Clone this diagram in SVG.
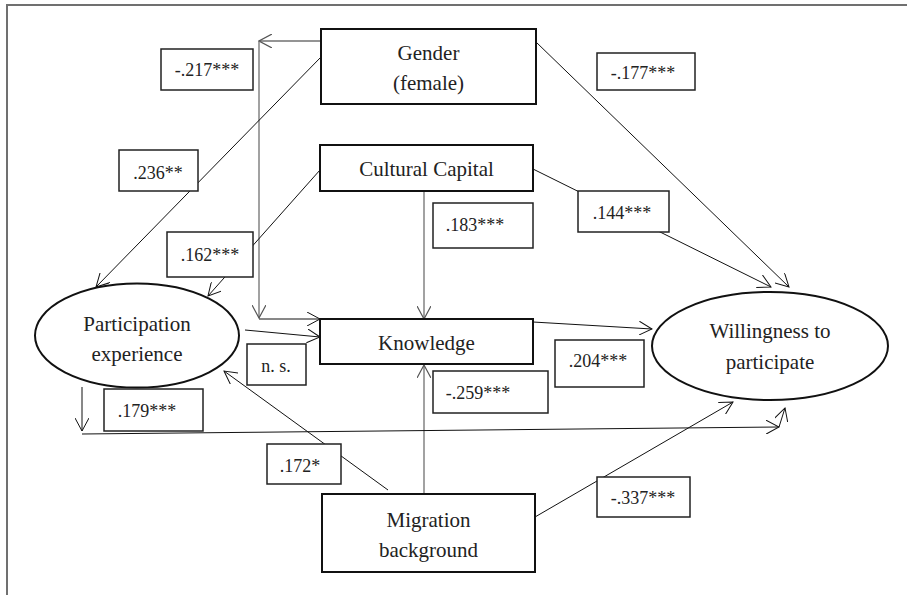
<svg xmlns="http://www.w3.org/2000/svg" width="907" height="595" viewBox="0 0 907 595">
<style>
.bg{fill:#fff}
.frame{fill:none;stroke:#707070;stroke-width:2}
.node{fill:#fff;stroke:#111;stroke-width:2}
.lab{fill:#fff;stroke:#222;stroke-width:1.5}
.ln{fill:none;stroke:#111;stroke-width:1;marker-end:url(#ah)}
.ga{fill:none;stroke:#707070;stroke-width:1.3;marker-end:url(#ahg)}
.t{font-family:"Liberation Serif","Times New Roman",Tinos,serif;font-size:21px;fill:#222;text-anchor:middle}
.s{font-family:"Liberation Serif","Times New Roman",Tinos,serif;font-size:18px;fill:#222;text-anchor:middle}
</style>
<defs>
<marker id="ah" markerUnits="userSpaceOnUse" markerWidth="14" markerHeight="14" refX="13" refY="7" orient="auto">
<path d="M0,0 L13,7 L0,14" fill="none" stroke="#111" stroke-width="1"/>
</marker>
<marker id="ahg" markerUnits="userSpaceOnUse" markerWidth="14" markerHeight="14" refX="13" refY="7" orient="auto">
<path d="M0,0 L13,7 L0,14" fill="none" stroke="#555" stroke-width="1.2"/>
</marker>
</defs>
<rect class="bg" x="0" y="0" width="907" height="595"/>
<rect class="frame" x="7" y="5" width="910" height="600"/>

<g id="connectors">
<line class="ga" x1="321" y1="41" x2="259" y2="41"/>
<line class="ga" x1="259" y1="41" x2="259" y2="318"/>
<line class="ln" x1="259" y1="319" x2="320" y2="319"/>
<line class="ln" x1="321" y1="57" x2="96" y2="287"/>
<line class="ln" x1="320" y1="170" x2="208" y2="296"/>
<line class="ln" x1="536" y1="42" x2="789" y2="287"/>
<line class="ln" x1="533" y1="169" x2="771" y2="287"/>
<line class="ga" x1="424" y1="191" x2="424" y2="319"/>
<line class="ln" x1="245" y1="330" x2="320" y2="337"/>
<line class="ln" x1="533" y1="322" x2="652" y2="329"/>
<line class="ga" x1="424" y1="494" x2="424" y2="365"/>
<line class="ln" x1="388" y1="490" x2="224" y2="371"/>
<line class="ln" x1="535" y1="517" x2="733" y2="402"/>
<line class="ln" x1="82" y1="387" x2="82" y2="431"/>
<line class="ln" x1="82" y1="434" x2="779" y2="427"/>
<line class="ln" x1="779" y1="427" x2="785" y2="408"/>
</g>

<g id="gender">
<rect class="node" x="321" y="29" width="215" height="75"/>
<text class="t" x="428.5" y="60">Gender</text>
<text class="t" x="428.5" y="90">(female)</text>
</g>
<g id="cultural-capital">
<rect class="node" x="320" y="145" width="213" height="46"/>
<text class="t" x="426.5" y="176">Cultural Capital</text>
</g>
<g id="knowledge">
<rect class="node" x="320" y="319" width="213" height="45"/>
<text class="t" x="426.5" y="350">Knowledge</text>
</g>
<g id="migration">
<rect class="node" x="322" y="494" width="213" height="78"/>
<text class="t" x="428.5" y="527">Migration</text>
<text class="t" x="428.5" y="557">background</text>
</g>
<g id="participation">
<ellipse class="node" cx="137" cy="335.5" rx="102" ry="52"/>
<text class="t" x="137" y="331">Participation</text>
<text class="t" x="137" y="361">experience</text>
</g>
<g id="willingness">
<ellipse class="node" cx="770" cy="346" rx="118" ry="54"/>
<text class="t" x="770" y="338">Willingness to</text>
<text class="t" x="770" y="369">participate</text>
</g>

<g id="labels">
<g id="l217"><rect class="lab" x="161" y="49" width="92" height="41"/><text class="s" x="207" y="76">-.217***</text></g>
<g id="l236"><rect class="lab" x="119" y="150" width="79" height="41"/><text class="s" x="158" y="179">.236**</text></g>
<g id="l162"><rect class="lab" x="167" y="232" width="86" height="45"/><text class="s" x="210" y="261">.162***</text></g>
<g id="l177"><rect class="lab" x="597" y="53" width="98" height="37"/><text class="s" x="643" y="79">-.177***</text></g>
<g id="l144"><rect class="lab" x="578" y="191" width="91" height="41"/><text class="s" x="622" y="219">.144***</text></g>
<g id="l183"><rect class="lab" x="433" y="203" width="100" height="45"/><text class="s" x="475" y="231">.183***</text></g>
<g id="lns"><rect class="lab" x="247" y="344" width="59" height="41"/><text class="s" x="276" y="372">n. s.</text></g>
<g id="l259"><rect class="lab" x="433" y="371" width="115" height="42"/><text class="s" x="478" y="399">-.259***</text></g>
<g id="l204"><rect class="lab" x="555" y="340" width="89" height="47"/><text class="s" x="598" y="367">.204***</text></g>
<g id="l179"><rect class="lab" x="104" y="389" width="99" height="42"/><text class="s" x="147" y="417">.179***</text></g>
<g id="l172"><rect class="lab" x="267" y="444" width="74" height="40"/><text class="s" x="300" y="472">.172*</text></g>
<g id="l337"><rect class="lab" x="597" y="477" width="93" height="40"/><text class="s" x="643" y="504">-.337***</text></g>
</g>
</svg>
